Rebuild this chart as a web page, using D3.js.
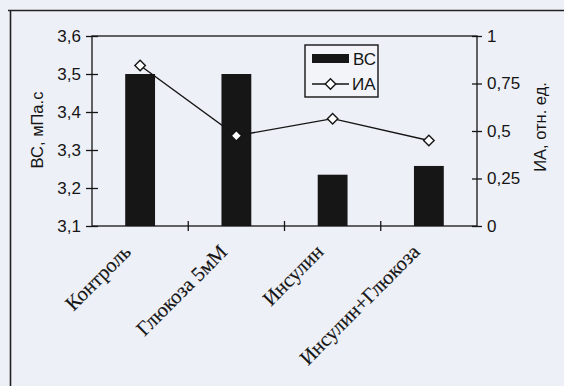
<!DOCTYPE html>
<html>
<head>
<meta charset="utf-8">
<script src="https://cdn.jsdelivr.net/npm/d3@7"></script>
<style>
  html, body { margin: 0; padding: 0; background: #eef0f7; }
  svg { display: block; }
</style>
</head>
<body>
<svg id="chart" width="564" height="386"></svg>
<script>
// Groups, bar values (ВС, mPa·s) and line values (ИА, rel. units)
const categories = ["Контроль", "Глюкоза 5мМ", "Инсулин", "Инсулин+Глюкоза"];
const bcValues = [3.5, 3.5, 3.235, 3.258];
const iaValues = [0.845, 0.475, 0.565, 0.45];
const leftTicks = [3.1, 3.2, 3.3, 3.4, 3.5, 3.6];
const rightTicks = [0, 0.25, 0.5, 0.75, 1];

const svg = d3.select("#chart");
const W = 564, H = 386;
const plot = { left: 92, right: 477, top: 36, bottom: 226 };
const ink = "#151515";
const sans = "'Liberation Sans', Arial, sans-serif";
const serif = "'Liberation Serif', 'Times New Roman', serif";
const fmt = d => String(d).replace(".", ",");

// Page frame lines
svg.append("path")
  .attr("d", `M8,10.5H${W}M10.5,10V${H}`)
  .attr("stroke", "#222").attr("stroke-width", 1.6).attr("fill", "none");

const x = d3.scaleBand().domain(categories).range([plot.left, plot.right]).paddingInner(0.69).paddingOuter(0.345);
const yL = d3.scaleLinear().domain([3.1, 3.6]).range([plot.bottom, plot.top]);
const yR = d3.scaleLinear().domain([0, 1]).range([plot.bottom, plot.top]);

// Bars
svg.append("g").selectAll("rect").data(categories).join("rect")
  .attr("x", d => x(d))
  .attr("width", x.bandwidth())
  .attr("y", (d, i) => yL(bcValues[i]))
  .attr("height", (d, i) => plot.bottom - yL(bcValues[i]))
  .attr("fill", "#161616");

// Plot frame
svg.append("rect")
  .attr("x", plot.left).attr("y", plot.top)
  .attr("width", plot.right - plot.left).attr("height", plot.bottom - plot.top)
  .attr("fill", "none").attr("stroke", ink).attr("stroke-width", 1.3);

// Left axis
const axL = svg.append("g").attr("transform", `translate(${plot.left},0)`)
  .call(d3.axisLeft(yL).tickValues(leftTicks).tickFormat(fmt).tickSize(6).tickPadding(5));
axL.select(".domain").remove();
axL.selectAll(".tick line").attr("x1", 6).attr("x2", -6).attr("stroke", ink).attr("stroke-width", 1.3);
axL.selectAll("text").attr("font-family", sans).attr("font-size", 17).attr("fill", ink);

// Right axis
const axR = svg.append("g").attr("transform", `translate(${plot.right},0)`)
  .call(d3.axisRight(yR).tickValues(rightTicks).tickFormat(fmt).tickSize(5).tickPadding(5));
axR.select(".domain").remove();
axR.selectAll(".tick line").attr("x1", -5).attr("x2", 5).attr("stroke", ink).attr("stroke-width", 1.3);
axR.selectAll("text").attr("font-family", sans).attr("font-size", 17).attr("fill", ink);

// Category separators on the bottom axis
const step = x.step();
svg.append("g").selectAll("line").data(categories.slice(1)).join("line")
  .attr("x1", d => x(d) - x.paddingInner() * step / 2)
  .attr("x2", d => x(d) - x.paddingInner() * step / 2)
  .attr("y1", plot.bottom - 5).attr("y2", plot.bottom + 5)
  .attr("stroke", ink).attr("stroke-width", 1.3);

// Category labels, rotated
svg.append("g").selectAll("text").data(categories).join("text")
  .attr("transform", d => `translate(${x(d) + x.bandwidth() / 2 - 13},${plot.bottom + 22}) rotate(-45)`)
  .attr("text-anchor", "end")
  .attr("dy", "0.35em")
  .attr("font-family", serif).attr("font-size", 20.5).attr("fill", ink)
  .attr("stroke", ink).attr("stroke-width", 0.15)
  .text(d => d);

// ИА line with diamond markers
const cx = d => x(d) + x.bandwidth() / 2;
svg.append("path")
  .datum(categories)
  .attr("d", d3.line().x(cx).y((d, i) => yR(iaValues[i])))
  .attr("fill", "none").attr("stroke", ink).attr("stroke-width", 1.4);

const diamond = d3.symbol().type(d3.symbolDiamond2).size(70);
svg.append("g").selectAll("path").data(categories).join("path")
  .attr("transform", (d, i) => `translate(${cx(d)},${yR(iaValues[i])})`)
  .attr("d", diamond)
  .attr("fill", "#fff").attr("stroke", ink).attr("stroke-width", 1.4);

// Axis titles
svg.append("text")
  .attr("transform", "translate(43,130) rotate(-90)")
  .attr("text-anchor", "middle")
  .attr("font-family", sans).attr("font-size", 16.5).attr("fill", ink)
  .text("ВС, мПа.с");
svg.append("text")
  .attr("transform", "translate(546,127) rotate(-90)")
  .attr("text-anchor", "middle")
  .attr("font-family", sans).attr("font-size", 16.5).attr("fill", ink)
  .text("ИА, отн. ед.");

// Legend
const lg = svg.append("g").attr("transform", "translate(305,45)");
lg.append("rect").attr("width", 73).attr("height", 52)
  .attr("fill", "#f3f4f9").attr("stroke", ink).attr("stroke-width", 1.4);
lg.append("rect").attr("x", 7).attr("y", 9).attr("width", 37).attr("height", 9).attr("fill", "#161616");
lg.append("text").attr("x", 48).attr("y", 14).attr("dy", "0.35em")
  .attr("font-family", sans).attr("font-size", 17).attr("fill", ink).text("ВС");
lg.append("line").attr("x1", 7).attr("x2", 44).attr("y1", 39).attr("y2", 39)
  .attr("stroke", ink).attr("stroke-width", 1.4);
lg.append("path").attr("transform", "translate(25.5,39)").attr("d", diamond)
  .attr("fill", "#fff").attr("stroke", ink).attr("stroke-width", 1.4);
lg.append("text").attr("x", 47).attr("y", 39).attr("dy", "0.35em")
  .attr("font-family", sans).attr("font-size", 17).attr("fill", ink).text("ИА");
</script>
</body>
</html>
